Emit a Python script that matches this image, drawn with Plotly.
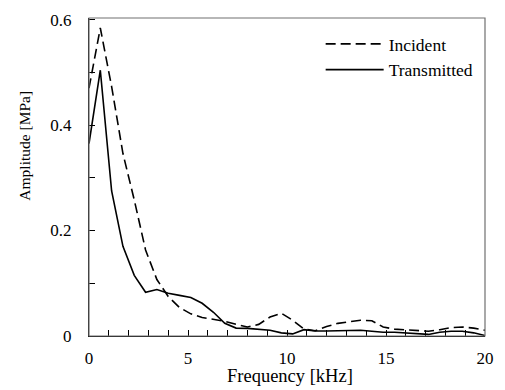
import plotly.graph_objects as go

freq_khz = [0.0, 0.571, 1.143, 1.714, 2.286, 2.857, 3.429, 4.0, 4.571, 5.143,
            5.714, 6.286, 6.857, 7.429, 8.0, 8.571, 9.143, 9.714, 10.286, 10.857,
            11.429, 12.0, 12.571, 13.143, 13.714, 14.286, 14.857, 15.429, 16.0, 16.571,
            17.143, 17.714, 18.286, 18.857, 19.429, 20.0]
incident = [0.47, 0.584, 0.473, 0.346, 0.258, 0.163, 0.107, 0.075, 0.054, 0.042,
            0.035, 0.031, 0.028, 0.022, 0.017, 0.022, 0.036, 0.043, 0.030, 0.013,
            0.010, 0.018, 0.024, 0.027, 0.030, 0.029, 0.017, 0.013, 0.012, 0.011,
            0.009, 0.012, 0.016, 0.017, 0.015, 0.011]
transmitted = [0.365, 0.504, 0.275, 0.17, 0.115, 0.083, 0.088, 0.081, 0.077, 0.073,
               0.062, 0.045, 0.024, 0.015, 0.0145, 0.013, 0.011, 0.006, 0.004, 0.012,
               0.0095, 0.0095, 0.010, 0.011, 0.011, 0.009, 0.007, 0.007, 0.006, 0.004,
               0.003, 0.007, 0.009, 0.009, 0.006, 0.001]

x_ticks = [0, 5, 10, 15, 20]
y_ticks = [0, 0.2, 0.4, 0.6]
y_tick_labels = ["0", "0.2", "0.4", "0.6"]

FONT = "Liberation Serif, Times New Roman, serif"

fig = go.Figure()
fig.add_trace(go.Scatter(x=freq_khz, y=incident, mode="lines", name="Incident",
                         legendgroup="a",
                         line=dict(color="black", width=1.6, dash="10px,5px")))
fig.add_trace(go.Scatter(x=freq_khz, y=transmitted, mode="lines", name="Transmitted",
                         legendgroup="b",
                         line=dict(color="black", width=1.6)))

fig.update_layout(
    width=505, height=390,
    margin=dict(l=89, r=11, t=18, b=54),
    paper_bgcolor="white", plot_bgcolor="white",
    font=dict(family=FONT, size=16, color="black"),
    showlegend=True,
    legend=dict(x=0.585, y=0.975, xanchor="left", yanchor="top",
                bgcolor="rgba(0,0,0,0)", font=dict(family=FONT, size=17.5),
                tracegroupgap=0, itemwidth=58),
    xaxis=dict(range=[0, 20], tickvals=x_ticks, ticks="inside", ticklen=6,
               tickcolor="black", showline=True, linecolor="black", linewidth=1.2,
               showgrid=False, zeroline=False, ticklabelstandoff=6,
               tickfont=dict(family=FONT, size=17),
               minor=dict(dtick=1, ticks="inside", ticklen=6, tickcolor="black")),
    yaxis=dict(range=[0, 0.603], tickvals=y_ticks, ticktext=y_tick_labels,
               ticks="inside", ticklen=6, tickcolor="black", showline=True,
               linecolor="black", linewidth=1.2, showgrid=False, zeroline=False,
               ticklabelstandoff=13, tickfont=dict(family=FONT, size=17),
               minor=dict(dtick=0.1, ticks="inside", ticklen=6, tickcolor="black")),
    shapes=[dict(type="rect", xref="paper", yref="paper", x0=0, y0=0, x1=1, y1=1,
                 line=dict(color="#707070", width=1.2), layer="above")],
    annotations=[
        dict(text="Frequency [kHz]", xref="paper", yref="paper", x=0.508, y=-0.165,
             xanchor="center", yanchor="bottom", showarrow=False,
             font=dict(family=FONT, size=18.5)),
        dict(text="Amplitude [MPa]", xref="paper", yref="paper", x=-0.163, y=0.60,
             xanchor="center", yanchor="middle", textangle=-90, showarrow=False,
             font=dict(family=FONT, size=15.5)),
    ],
)

fig.write_html("out.html", config={"displayModeBar": False},
               post_script="document.body.style.margin='0';document.body.style.overflow='hidden';")
